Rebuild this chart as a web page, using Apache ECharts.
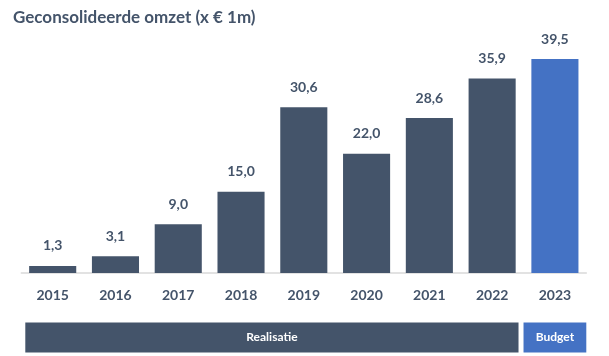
<!DOCTYPE html>
<html>
<head>
<meta charset="utf-8">
<script src="https://cdn.jsdelivr.net/npm/echarts@6/dist/echarts.min.js"></script>
<style>
html,body{margin:0;padding:0;background:#fff;}
#c{width:609px;height:356px;}
</style>
</head>
<body>
<div id="c"></div>
<script>
const years = ['2015','2016','2017','2018','2019','2020','2021','2022','2023'];
const omzet = [1.3, 3.1, 9.0, 15.0, 30.6, 22.0, 28.6, 35.9, 39.5];
const budgetIndex = 8;
const segmentNames = ['Realisatie', 'Budget'];
const segmentStart = [0, 8];
const segmentEnd = [7, 8];

const DARK = '#44546A';
const BLUE = '#4472C4';
const FONT = 'Lato';

const chart = echarts.init(document.getElementById('c'), null, {renderer: 'canvas'});
chart.setOption({
  animation: false,
  backgroundColor: '#fff',
  title: {
    text: 'Geconsolideerde omzet (x € 1m)',
    left: 8, top: 4,
    textStyle: {color: DARK, fontFamily: FONT, fontWeight: 'bold', fontSize: 17}
  },
  grid: [
    {left: 21.3, right: 22.7, top: 29.2, bottom: 83},
    {left: 21.3, right: 22.7, top: 322.5, height: 30}
  ],
  xAxis: [
    {
      type: 'category', data: years, gridIndex: 0,
      axisLine: {lineStyle: {color: '#d9d9d9', width: 1.5}},
      axisTick: {show: false},
      axisLabel: {color: DARK, fontFamily: FONT, fontWeight: 'bold', fontSize: 14, margin: 15}
    },
    {type: 'category', data: years, gridIndex: 1, show: false}
  ],
  yAxis: [
    {type: 'value', min: 0, max: 45, show: false, splitLine: {show: false}, gridIndex: 0},
    {type: 'value', min: 0, max: 1, show: false, splitLine: {show: false}, gridIndex: 1}
  ],
  series: [
    {
      type: 'bar',
      xAxisIndex: 0, yAxisIndex: 0,
      barCategoryGap: '25%',
      data: omzet.map((v, i) => ({value: v, itemStyle: {color: i === budgetIndex ? BLUE : DARK}})),
      label: {
        show: true, position: 'top', distance: 13,
        color: DARK, fontFamily: FONT, fontWeight: 'bold', fontSize: 14,
        formatter: p => p.value.toFixed(1).replace('.', ',')
      }
    },
    {
      type: 'custom',
      xAxisIndex: 1, yAxisIndex: 1,
      data: segmentNames.map((n, i) => [segmentStart[i], segmentEnd[i], n]),
      renderItem: function (params, api) {
        const s = api.value(0), e = api.value(1);
        const bw = api.size([1, 0])[0];
        const cs = params.coordSys;
        let x0 = api.coord([s, 0])[0] - bw / 2;
        let x1 = api.coord([e, 0])[0] + bw / 2;
        if (params.dataIndex === 0) { x0 += 4; x1 -= 5; }
        const name = segmentNames[params.dataIndex];
        return {
          type: 'group',
          children: [
            {type: 'rect', shape: {x: x0, y: cs.y, width: x1 - x0, height: cs.height},
             style: {fill: params.dataIndex === 0 ? DARK : BLUE}},
            {type: 'text', x: (x0 + x1) / 2, y: cs.y + cs.height / 2,
             style: {text: name, fill: '#fff', font: 'bold 12px ' + FONT, align: 'center', verticalAlign: 'middle'}}
          ]
        };
      }
    }
  ]
});
</script>
</body>
</html>
